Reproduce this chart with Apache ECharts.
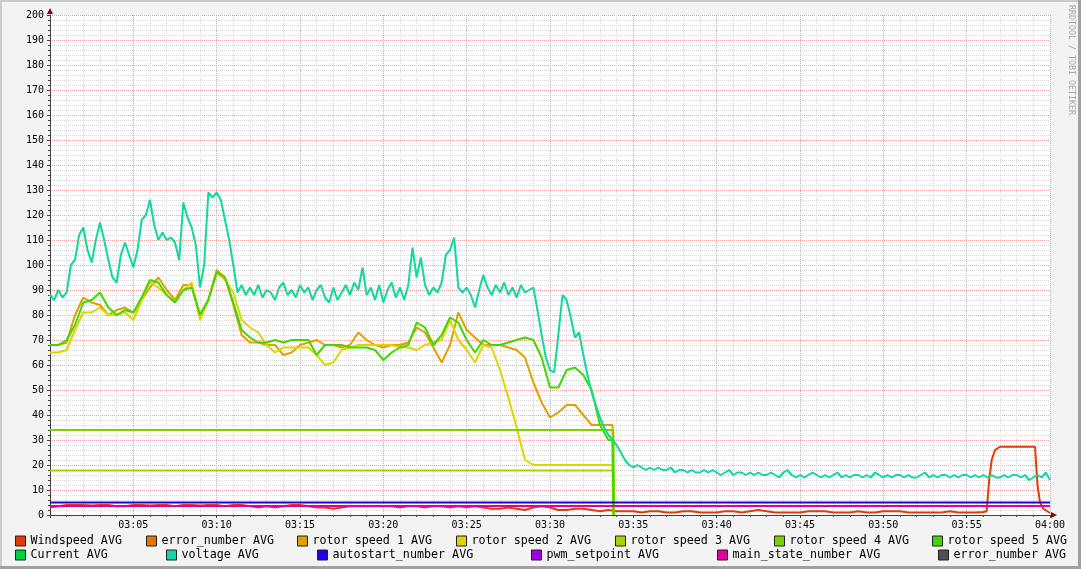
<!DOCTYPE html>
<html><head><meta charset="utf-8">
<script src="https://cdn.jsdelivr.net/npm/echarts@6/dist/echarts.min.js"></script>
<style>html,body{margin:0;padding:0;background:#F3F3F3;overflow:hidden}#c{width:1081px;height:569px}</style>
</head><body><div id="c"></div><script>
// ---- data (x in minutes after 03:00) ----
const xTickLabels = ['03:05','03:10','03:15','03:20','03:25','03:30','03:35','03:40','03:45','03:50','03:55','04:00'];
const seriesNames = ['Windspeed AVG','error_number AVG','rotor speed 1 AVG','rotor speed 2 AVG','rotor speed 3 AVG','rotor speed 4 AVG','rotor speed 5 AVG','Current AVG','voltage AVG','autostart_number AVG','pwm_setpoint AVG','main_state_number AVG','error_number AVG '];
const seriesColors = ['#E03C0A','#E07800','#E0A000','#DDD400','#A8D400','#80D000','#40D800','#00D040','#10D8A0','#2000E0','#A000E0','#E000A0','#505050'];

const voltageStep = 0.25;
const voltage = [
 88,86,90,87, 89,100,102,112, 115,106,101,110, 117,110,102,95, 93,104,109,104,
 99,106,118,120, 126,116,110,113, 110,111,109,102, 125,119,115,108, 91,100,129,127,
 129,126,118,110, 100,89,92,88, 91,88,92,87, 90,89,86,91, 93,88,90,87,
 92,89,91,86, 90,92,87,85, 91,86,89,92, 88,93,90,99, 88,91,86,92,
 85,90,93,87, 91,86,92,107, 95,103,92,88, 91,89,93,104, 106,111,91,89,
 91,88,83,90, 96,91,88,92, 89,93,88,91, 87,92,89,90, 91,82,72,63,
 58,57,72,88, 86,79,71,73, 64,56,49,44, 39,35,32,30, 28,25,22,20,
 19,20,19,18, 19,18,19,18, 18,19,17,18, 18,17,18,17, 17,18,17,18,
 17,16,17,18, 16,17,17,16, 17,16,17,16, 16,17,16,15, 17,18,16,15,
 16,15,16,17, 16,15,16,15, 16,17,15,16, 15,16,16,15, 16,15,17,16,
 15,16,15,16, 16,15,16,15, 15,16,17,15, 16,15,16,16, 15,16,15,16,
 16,15,16,15, 16,15,16,15, 15,16,15,16, 16,15,16,14, 15,16,15,17,
 14];

const rotorStep = 0.5;
const rotorStopMin = 33.8;
const rotor1 = [
 68,68,69,80,87,85,84,80,82,83,
 81,86,91,95,90,86,92,92,80,86,
 98,95,84,72,69,69,68,68,64,65,
 68,69,70,68,68,67,68,73,70,68,
 67,68,68,69,75,73,67,61,68,81,
 74,71,68,68,68,67,66,63,53,45,
 39,41,44,44,40,36,36,36];
const rotor2 = [
 65,65,66,74,81,81,83,80,80,81,
 78,86,93,91,88,85,90,93,78,86,
 97,94,89,78,75,73,68,65,67,67,
 67,67,64,60,61,66,67,68,68,68,
 68,68,67,67,66,68,69,70,78,70,
 66,61,68,67,58,47,35,22,20,20,
 20,20,20,20,20,20,20,20];
const rotor5 = [
 68,68,70,76,85,86,89,83,80,82,
 81,87,94,93,88,85,90,91,80,86,
 97,95,85,74,71,69,69,70,69,70,
 70,70,64,68,68,68,67,67,67,66,
 62,65,67,68,77,75,68,72,79,77,
 70,65,70,68,68,69,70,71,70,63,
 51,51,58,59,56,50,36,30];
const rotor3Level = 17.8;
const rotor4Level = 34;

const windStep = 0.5;
const windspeed = [
 3,3.5,4,4,4,3.8,4,4,3.5,3.5,
 4,4,3.8,4,4,3.5,4,4,3.8,4,
 4,3.5,4,4,3.5,3,3.5,3,3.5,4,
 4,3.5,3,3,2.5,3,3.5,3.5,3.5,3.5,
 3.5,3.5,3,3.5,3.5,3,3.5,3.5,3,3.5,
 3,3.5,3,2.5,2.5,3,2.5,2,3,3.5,
 3,2,2,2.5,2.5,2,1.5,2,1.5,1.5,
 1.5,1,1.5,1.5,1,1,1.5,1.5,1,1,
 1,1.5,1.5,1,1.5,2,1.5,1,1,1,
 1,1.5,1.5,1.5,1,1,1,1.5,1,1,
 1.5,1.5,1.5,1,1,1,1,1,1.5,1,
 1,1,1.2];
const windGustTimes = [56.2,56.35,56.5,56.7,57,59.1,59.25,59.4,59.6,60];
const windGustValues = [1.5,14,22,26,27.3,27.3,12,5,2.5,0.8];

const autostartLevel = 5;
const pwmLevel = 3.6;
const mainStateLevel = 3.6;

// ---- build ----
const pairs = (vals, step) => vals.map((v, i) => [i * step, v]);
const rotorData = vals => pairs(vals, rotorStep).concat([[rotorStopMin - 0.05, vals[vals.length - 1]], [rotorStopMin, 0]]);
const levelData = (lv, end, drop) => drop ? [[0, lv], [end, lv], [end + 0.05, 0]] : [[0, lv], [end, lv]];
const windData = pairs(windspeed, windStep).concat(windGustTimes.map((t, i) => [t, windGustValues[i]]));

const dataByName = [
  windData, [], rotorData(rotor1), rotorData(rotor2),
  levelData(rotor3Level, rotorStopMin, true), levelData(rotor4Level, rotorStopMin, true),
  rotorData(rotor5), [], pairs(voltage, voltageStep),
  levelData(autostartLevel, 60), levelData(pwmLevel, 60), levelData(mainStateLevel, 60), []
];

const series = seriesNames.map((n, i) => ({
  name: n, type: 'line', data: dataByName[i], symbol: 'none', showSymbol: false,
  color: seriesColors[i],
  lineStyle: { width: 2, color: seriesColors[i] },
  itemStyle: { color: seriesColors[i] },
  emphasis: { disabled: true }, animation: false
}));

const legendPos = [[15,535],[146,535],[297,535],[456,535],[615,535],[774,535],[932,535],
                   [15,549],[166,549],[317,549],[531,549],[717,549],[938,549]];
const legends = seriesNames.map((n, i) => ({
  data: [n], left: legendPos[i][0], top: legendPos[i][1], padding: 0,
  icon: 'rect', itemWidth: 10, itemHeight: 10, itemGap: 0,
  itemStyle: { borderColor: '#222', borderWidth: 1 },
  textStyle: { fontFamily: 'DejaVu Sans Mono', fontSize: 11.7, color: '#000', padding: [0,0,0,0] },
  selectedMode: false
}));

const gridMajor = { color: '#F0A0A0', width: 1, type: [1, 1] };
const gridMinor = { color: '#D8D8D8', width: 1, type: [1, 1] };
const axisCol = '#404040';

const chart = echarts.init(document.getElementById('c'), null, { renderer: 'canvas' });
chart.setOption({
  backgroundColor: '#F3F3F3',
  animation: false,
  grid: { left: 50, right: 31, top: 15, bottom: 54, show: true, backgroundColor: '#FFFFFF', borderWidth: 0 },
  legend: legends,
  xAxis: {
    type: 'value', min: 0, max: 60, interval: 5,
    axisLine: { show: true, onZero: false, lineStyle: { color: axisCol, width: 1 } },
    axisTick: { show: true, length: 3, inside: false, lineStyle: { color: axisCol } },
    minorTick: { show: true, splitNumber: 5, length: 2, lineStyle: { color: axisCol } },
    axisLabel: { margin: 5, fontFamily: 'DejaVu Sans Mono', fontSize: 10, color: '#000',
      formatter: v => v === 0 ? '' : xTickLabels[Math.round(v / 5) - 1] },
    splitLine: { show: true, lineStyle: gridMajor },
    minorSplitLine: { show: true, lineStyle: gridMinor }
  },
  yAxis: {
    type: 'value', min: 0, max: 200, interval: 10,
    axisLine: { show: true, onZero: false, lineStyle: { color: axisCol, width: 1 } },
    axisTick: { show: true, length: 3, lineStyle: { color: axisCol } },
    minorTick: { show: true, splitNumber: 5, length: 2, lineStyle: { color: axisCol } },
    axisLabel: { margin: 6, fontFamily: 'DejaVu Sans Mono', fontSize: 10, color: '#000' },
    splitLine: { show: true, lineStyle: gridMajor },
    minorSplitLine: { show: true, lineStyle: gridMinor }
  },
  graphic: [
    { type: 'rect', shape: { x: 0, y: 0, width: 1081, height: 2 }, style: { fill: '#CBCBCB' }, silent: true },
    { type: 'rect', shape: { x: 0, y: 0, width: 2, height: 569 }, style: { fill: '#CBCBCB' }, silent: true },
    { type: 'rect', shape: { x: 1078, y: 0, width: 3, height: 569 }, style: { fill: '#A0A0A0' }, silent: true },
    { type: 'rect', shape: { x: 0, y: 566, width: 1081, height: 3 }, style: { fill: '#A0A0A0' }, silent: true },
    { type: 'polygon', shape: { points: [[47, 14], [53, 14], [50, 8]] }, style: { fill: '#900000' }, silent: true, z: 100 },
    { type: 'polygon', shape: { points: [[1051, 512], [1051, 518], [1057, 515]] }, style: { fill: '#900000' }, silent: true, z: 100 },
    { type: 'text', x: 1071, y: 5, rotation: -Math.PI / 2, silent: true,
      style: { text: 'RRDTOOL / TOBI OETIKER', fontFamily: 'DejaVu Sans Mono', fontSize: 8.3, fill: '#A8A8A8', align: 'left', verticalAlign: 'middle' } }
  ],
  series: series
});
</script></body></html>
